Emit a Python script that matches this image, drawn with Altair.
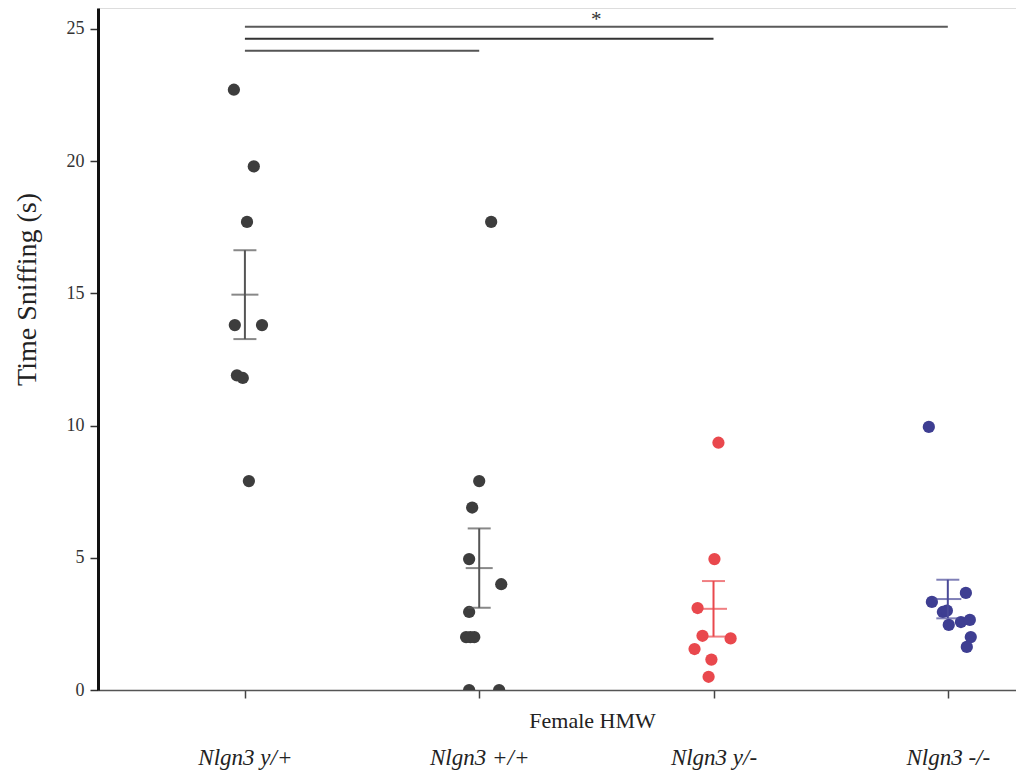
import json
import altair as alt
import pandas as pd

groups = ["Nlgn3 y/+", "Nlgn3 +/+", "Nlgn3 y/-", "Nlgn3 -/-"]
group_pos = [1, 2, 3, 4]
point_colors = ["#3d3d3d", "#3d3d3d", "#e9484d", "#3e3e92"]
bar_colors = ["#555555", "#555555", "#e9484d", "#4a4a98"]

g1_values = [22.7, 19.8, 17.7, 13.8, 13.8, 11.9, 11.8, 7.9]
g1_jitter = [-0.047, 0.038, 0.009, -0.043, 0.073, -0.034, -0.009, 0.017]
g2_values = [17.7, 7.9, 6.9, 4.95, 4.0, 2.95, 2.0, 2.0, 2.0, 0.0, 0.0]
g2_jitter = [0.051, 0.0, -0.030, -0.043, 0.094, -0.043, -0.056, -0.038, -0.021, -0.043, 0.085]
g3_values = [9.35, 4.95, 3.1, 2.05, 1.95, 1.55, 1.15, 0.5]
g3_jitter = [0.021, 0.004, -0.068, -0.047, 0.073, -0.081, -0.009, -0.021]
g4_values = [9.95, 3.67, 3.33, 2.95, 3.0, 2.46, 2.57, 2.65, 2.0, 1.63]
g4_jitter = [-0.081, 0.077, -0.068, -0.021, -0.004, 0.004, 0.056, 0.094, 0.098, 0.081]

means = [14.95, 4.61, 3.07, 3.44]
sems = [1.68, 1.50, 1.05, 0.73]

sig_from = [1, 1, 1]
sig_to = [4, 3, 2]
sig_y = [25.08, 24.63, 24.17]
sig_colors = ["#5a5a5a", "#333333", "#555555"]
sig_label = "*"
sig_label_x = 2.5
sig_label_y = 25.12

y_ticks = [0, 5, 10, 15, 20, 25]

rows = []
for g, pos, vals, jit in zip(groups, group_pos,
                             [g1_values, g2_values, g3_values, g4_values],
                             [g1_jitter, g2_jitter, g3_jitter, g4_jitter]):
    for v, j in zip(vals, jit):
        rows.append({"group": g, "xpos": pos + j, "value": v})
pts = pd.DataFrame(rows)

stats = pd.DataFrame({
    "group": groups, "pos": group_pos, "mean": means,
    "lo": [m - s for m, s in zip(means, sems)],
    "hi": [m + s for m, s in zip(means, sems)],
    "bcolor": bar_colors,
})
sig = pd.DataFrame({"x1": sig_from, "x2": sig_to, "y": sig_y, "c": sig_colors})
star = pd.DataFrame({"x": [sig_label_x], "y": [sig_label_y], "t": [sig_label]})

FONT = "Liberation Serif"
x_scale = alt.Scale(domain=[0.373, 4.291], nice=False, zero=False)
y_scale = alt.Scale(domain=[0, 25.79], nice=False, zero=False)

x_axis = alt.Axis(
    values=group_pos, labelExpr=f"{json.dumps(groups)}[datum.value - 1]",
    title="Female HMW", titleFont=FONT, titleFontSize=22, titleFontWeight="normal",
    titleColor="#222", titleX=494, titleY=30, titleBaseline="middle", titleAlign="center",
    labelFont=FONT, labelFontSize=23, labelFontStyle="italic", labelColor="#222",
    labelPadding=66, labelBaseline="alphabetic",
    domainColor="#555", domainWidth=1.5, tickColor="#444", tickWidth=1.5, tickSize=8,
    grid=False,
)
y_axis = alt.Axis(
    values=y_ticks, title="Time Sniffing (s)", titleFont=FONT, titleFontSize=28,
    titleFontWeight="normal", titleColor="#222", titleX=-71, titleY=281,
    titleBaseline="middle", titleAlign="center", titleAngle=270,
    labelFont=FONT, labelFontSize=18, labelColor="#333", labelPadding=6,
    domainColor="#111", domainWidth=3, tickColor="#333", tickWidth=1.5, tickSize=8,
    grid=False,
)

points = alt.Chart(pts).mark_circle(size=150, opacity=1, clip=True).encode(
    x=alt.X("xpos:Q", scale=x_scale, axis=x_axis),
    y=alt.Y("value:Q", scale=y_scale, axis=y_axis),
    color=alt.Color("group:N", scale=alt.Scale(domain=groups, range=point_colors), legend=None),
)

base = alt.Chart(stats)
vrule = base.mark_rule(strokeWidth=2).encode(
    x=alt.X("pos:Q", scale=x_scale), y=alt.Y("lo:Q", scale=y_scale), y2="hi:Q",
    color=alt.Color("bcolor:N", scale=None))
cap_hi = base.mark_tick(orient="horizontal", size=23, thickness=2).encode(
    x=alt.X("pos:Q", scale=x_scale), y=alt.Y("hi:Q", scale=y_scale),
    color=alt.Color("bcolor:N", scale=None))
cap_lo = base.mark_tick(orient="horizontal", size=23, thickness=2).encode(
    x=alt.X("pos:Q", scale=x_scale), y=alt.Y("lo:Q", scale=y_scale),
    color=alt.Color("bcolor:N", scale=None))
mean_t = base.mark_tick(orient="horizontal", size=27, thickness=2).encode(
    x=alt.X("pos:Q", scale=x_scale), y=alt.Y("mean:Q", scale=y_scale),
    color=alt.Color("bcolor:N", scale=None))

sig_lines = alt.Chart(sig).mark_rule(strokeWidth=2).encode(
    x=alt.X("x1:Q", scale=x_scale), x2="x2:Q", y=alt.Y("y:Q", scale=y_scale),
    color=alt.Color("c:N", scale=None))
star_text = alt.Chart(star).mark_text(font=FONT, fontSize=21, color="#333", baseline="alphabetic").encode(
    x=alt.X("x:Q", scale=x_scale), y=alt.Y("y:Q", scale=y_scale), text="t:N")

chart = alt.layer(points, vrule, cap_hi, cap_lo, mean_t, sig_lines, star_text).properties(
    width=918, height=682,
    autosize=alt.AutoSizeParams(type="none"),
    padding={"left": 90, "top": 0, "right": 0, "bottom": 82},
).configure_view(stroke=None).configure(background="white")

chart.save("out.html", embed_options={"renderer": "svg", "actions": False})
